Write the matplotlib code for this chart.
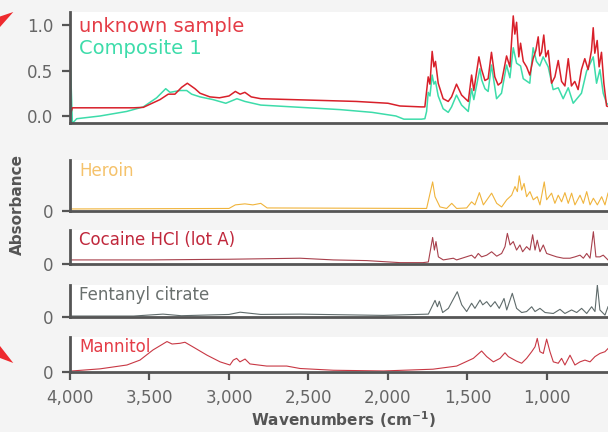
import matplotlib
matplotlib.use("Agg")
import matplotlib.pyplot as plt
from matplotlib.patches import Polygon

# wavenumbers (cm-1) and absorbance
unk_w = [4000, 3985, 3800, 3600, 3539, 3434, 3382, 3340, 3298, 3262, 3214, 3182, 3120, 3060, 3000, 2960,
         2930, 2900, 2860, 2800, 2600, 2400, 2200, 2000, 1925, 1790,
         1768, 1747, 1736, 1722, 1711, 1701, 1684, 1653, 1621, 1600, 1569, 1537, 1495, 1474, 1460, 1428,
         1411, 1390, 1370, 1349, 1328, 1307, 1286, 1254, 1233, 1212, 1202, 1191, 1177, 1166, 1149, 1128,
         1108, 1087, 1070, 1055, 1045, 1034, 1020, 1007, 992, 971, 950, 929, 908, 887, 866, 846, 825, 804,
         783, 762, 741, 720, 709, 699, 684, 672, 657, 642, 625, 610]
unk_a = [0.0, 0.09, 0.09, 0.09, 0.095, 0.18, 0.24, 0.24, 0.315, 0.36, 0.30, 0.25, 0.21, 0.20, 0.22, 0.27,
         0.24, 0.26, 0.21, 0.19, 0.18, 0.17, 0.16, 0.14, 0.11, 0.10,
         0.10, 0.43, 0.35, 0.71, 0.54, 0.60, 0.36, 0.19, 0.16, 0.21, 0.35, 0.23, 0.16, 0.45, 0.28, 0.65,
         0.51, 0.39, 0.41, 0.70, 0.43, 0.34, 0.37, 0.66, 0.54, 1.10, 0.90, 1.03, 0.65, 0.80, 0.60, 0.54,
         0.45, 0.63, 0.72, 0.87, 0.66, 0.70, 0.89, 0.65, 0.72, 0.36, 0.43, 0.61, 0.38, 0.33, 0.63, 0.33, 0.38, 0.29,
         0.51, 0.63, 0.51, 0.72, 0.97, 0.69, 0.83, 0.54, 0.70, 0.36, 0.11, 0.10]

comp_w = [4000, 3985, 3958, 3811, 3644, 3539, 3455, 3398, 3371, 3308, 3266, 3235, 3182, 3100, 3020, 2950,
          2900, 2800, 2600, 2300, 2100, 1950, 1900, 1790,
          1768, 1757, 1747, 1736, 1722, 1711, 1701, 1684, 1653, 1621, 1600, 1569, 1537, 1495, 1474, 1460,
          1422, 1411, 1390, 1370, 1349, 1317, 1286, 1254, 1233, 1212, 1191, 1166, 1149, 1108, 1087, 1066,
          1045, 1024, 992, 961, 929, 898, 866, 835, 783, 751, 709, 688, 667, 646, 625, 610]
comp_a = [0.72, -0.08, -0.03, 0.0, 0.05, 0.10, 0.20, 0.30, 0.26, 0.28, 0.28, 0.24, 0.21, 0.18, 0.14, 0.19,
          0.16, 0.12, 0.10, 0.07, 0.04, 0.0, -0.035, -0.035,
          -0.03, 0.05, 0.26, 0.22, 0.45, 0.35, 0.38, 0.22, 0.08, 0.04, 0.10, 0.23, 0.12, 0.05, 0.30, 0.18,
          0.52, 0.40, 0.30, 0.27, 0.56, 0.19, 0.25, 0.56, 0.42, 0.75, 0.58, 0.55, 0.41, 0.36, 0.75, 0.60,
          0.55, 0.65, 0.54, 0.29, 0.31, 0.19, 0.31, 0.14, 0.25, 0.49, 0.65, 0.36, 0.51, 0.25, 0.14, 0.12]

her_w = [4000, 3000, 2960, 2900, 2850, 2800, 2760, 1757, 1719, 1704, 1673, 1631, 1599, 1568, 1505, 1474,
         1453, 1425, 1400, 1348, 1316, 1285, 1253, 1222, 1201, 1186, 1174, 1159, 1144, 1128, 1107, 1086,
         1061, 1044, 1017, 1002, 971, 950, 929, 908, 887, 866, 845, 824, 792, 771, 750, 729, 708, 683,
         656, 635, 616]
her_a = [0.04, 0.05, 0.12, 0.14, 0.12, 0.15, 0.06, 0.05, 0.57, 0.28, 0.08, 0.05, 0.15, 0.05, 0.06, 0.18,
         0.12, 0.36, 0.12, 0.35, 0.15, 0.08, 0.22, 0.31, 0.48, 0.38, 0.69, 0.41, 0.54, 0.28, 0.38, 0.22,
         0.28, 0.12, 0.57, 0.22, 0.35, 0.15, 0.31, 0.18, 0.36, 0.15, 0.35, 0.12, 0.31, 0.15, 0.38, 0.12, 0.25, 0.12,
         0.28, 0.12, 0.35]

coc_w = [4000, 3500, 3000, 2553, 2343, 2134, 1924, 1780, 1746, 1719, 1708, 1698, 1683, 1652, 1589, 1568,
         1474, 1453, 1432, 1411, 1379, 1348, 1316, 1285, 1264, 1249, 1232, 1212, 1191, 1170, 1153, 1128,
         1107, 1090, 1075, 1061, 1044, 1023, 1002, 971, 939, 897, 855, 824, 792, 771, 750, 729, 708, 692,
         667, 646, 616]
coc_a = [0.12, 0.12, 0.14, 0.17, 0.12, 0.10, 0.04, 0.04, 0.06, 0.78, 0.41, 0.66, 0.21, 0.12, 0.17, 0.12,
         0.26, 0.17, 0.31, 0.21, 0.26, 0.36, 0.23, 0.31, 0.51, 0.90, 0.56, 0.66, 0.41, 0.56, 0.36, 0.51,
         0.41, 0.86, 0.41, 0.70, 0.36, 0.56, 0.31, 0.26, 0.21, 0.17, 0.17, 0.21, 0.26, 0.17, 0.31, 0.17, 0.95, 0.21,
         0.21, 0.26, 0.12]

fen_w = [4000, 3600, 3415, 3300, 3000, 2930, 2800, 2553, 2029, 1746, 1704, 1689, 1677, 1656, 1620, 1564,
         1536, 1505, 1474, 1453, 1421, 1404, 1379, 1354, 1327, 1300, 1270, 1253, 1218, 1191, 1159, 1128,
         1096, 1075, 1044, 1012, 960, 918, 887, 845, 813, 782, 750, 719, 698, 683, 667, 635, 616]
fen_a = [0.03, 0.03, 0.09, 0.04, 0.08, 0.15, 0.08, 0.09, 0.05, 0.09, 0.52, 0.32, 0.49, 0.14, 0.27, 0.79,
         0.38, 0.17, 0.43, 0.27, 0.53, 0.38, 0.48, 0.32, 0.48, 0.27, 0.58, 0.22, 0.74, 0.27, 0.14, 0.17,
         0.32, 0.17, 0.27, 0.14, 0.11, 0.24, 0.11, 0.22, 0.14, 0.27, 0.11, 0.32, 0.17, 1.0, 0.22, 0.06, 0.32]

man_w = [3987, 3811, 3642, 3560, 3478, 3390, 3358, 3308, 3277, 3220, 3138, 3056, 2994, 2973, 2952, 2931,
         2899, 2868, 2763, 2637, 2553, 2343, 2029, 1717, 1568, 1463, 1411, 1379, 1337, 1295, 1264, 1243,
         1191, 1159, 1128, 1096, 1075, 1061, 1044, 1023, 1002, 981, 960, 929, 908, 887, 855, 824, 792,
         761, 729, 698, 667, 635, 616]
man_a = [0.03, 0.09, 0.20, 0.34, 0.63, 0.87, 0.80, 0.82, 0.85, 0.70, 0.48, 0.29, 0.20, 0.34, 0.39, 0.29,
         0.37, 0.23, 0.17, 0.17, 0.10, 0.05, 0.03, 0.08, 0.17, 0.39, 0.60, 0.44, 0.29, 0.39, 0.55, 0.44,
         0.31, 0.25, 0.39, 0.58, 0.72, 0.96, 0.58, 0.53, 0.94, 0.58, 0.29, 0.25, 0.39, 0.20, 0.48, 0.20, 0.29,
         0.34, 0.29, 0.44, 0.53, 0.58, 0.67]

x_ticks = [4000, 3500, 3000, 2500, 2000, 1500, 1000]
x_labels = ["4,000", "3,500", "3,000", "2,500", "2,000", "1,500", "1,000"]

GREY = "#555555"
LABEL_GREY = "#666666"
W, H = 608, 432

fig = plt.figure(figsize=(6.08, 4.32), dpi=100, facecolor="#f4f4f4")


def px_axes(top, bottom):
    return fig.add_axes([70 / W, 1 - bottom / H, 1 - 70 / W, (bottom - top) / H])


def style(ax, ylim, yt, ytl):
    ax.set_facecolor("white")
    ax.set_xlim(4000, 616)
    ax.set_ylim(*ylim)
    for s in ("top", "right"):
        ax.spines[s].set_visible(False)
    for s in ("left", "bottom"):
        ax.spines[s].set_color(GREY)
        ax.spines[s].set_linewidth(2.0)
    ax.set_yticks(yt)
    ax.set_yticklabels(ytl)
    ax.tick_params(axis="y", length=6, width=1.6, color=GREY, labelcolor=LABEL_GREY,
                   labelsize=12, pad=6)
    ax.tick_params(axis="x", bottom=False, labelbottom=False)


ax1 = px_axes(12, 123)
ax1.plot(comp_w, comp_a, color="#3ddcaa", lw=1.1)
ax1.plot(unk_w, unk_a, color="#d8202a", lw=1.1)
style(ax1, (-0.077, 1.143), [0.0, 0.5, 1.0], ["0.0", "0.5", "1.0"])

panels = [
    (160, 211, her_w, her_a, "#f0b43c"),
    (230, 264, coc_w, coc_a, "#a8404c"),
    (285, 317, fen_w, fen_a, "#5f6b6b"),
    (337, 372, man_w, man_a, "#c83844"),
]
axes = []
for top, bottom, xs, ys, c in panels:
    ax = px_axes(top, bottom)
    ax.plot(xs, ys, color=c, lw=0.8)
    style(ax, (0, 1.0), [0], ["0"])
    axes.append(ax)

axb = axes[-1]
axb.set_xticks(x_ticks)
axb.set_xticklabels(x_labels)
axb.tick_params(axis="x", bottom=True, labelbottom=True, length=6, width=1.6,
                color=GREY, labelcolor=LABEL_GREY, labelsize=12, pad=6)

labels = [
    ("unknown sample", 27, "#e43c46", 14),
    ("Composite 1", 48, "#3ddcaa", 14),
    ("Heroin", 171, "#f5c26b", 12),
    ("Cocaine HCl (lot A)", 240, "#c0283c", 12),
    ("Fentanyl citrate", 295, "#6a706e", 12),
    ("Mannitol", 347, "#e43c46", 12),
]
for txt, y, c, fs in labels:
    fig.text(79 / W, 1 - y / H, txt, color=c, fontsize=fs, va="center", ha="left")

fig.text(17 / W, 1 - 205 / H, "Absorbance", rotation=90, fontsize=11, fontweight="bold",
         color=GREY, va="center", ha="center")
fig.text(343 / W, 1 - 420 / H, r"Wavenumbers (cm$^{\mathbf{-1}}$)", fontsize=11,
         fontweight="bold", color=GREY, va="center", ha="center")

# red arrow heads cut off at the left edge
for pts in ([(0, 16.5), (13.3, 12), (0, 27)], [(0, 346), (13.3, 363), (0, 358)]):
    fig.patches.append(Polygon([(x / W, 1 - y / H) for x, y in pts], closed=True,
                               transform=fig.transFigure, color="#ee2a2e", lw=0))

fig.savefig("out.png", dpi=100, facecolor=fig.get_facecolor())
